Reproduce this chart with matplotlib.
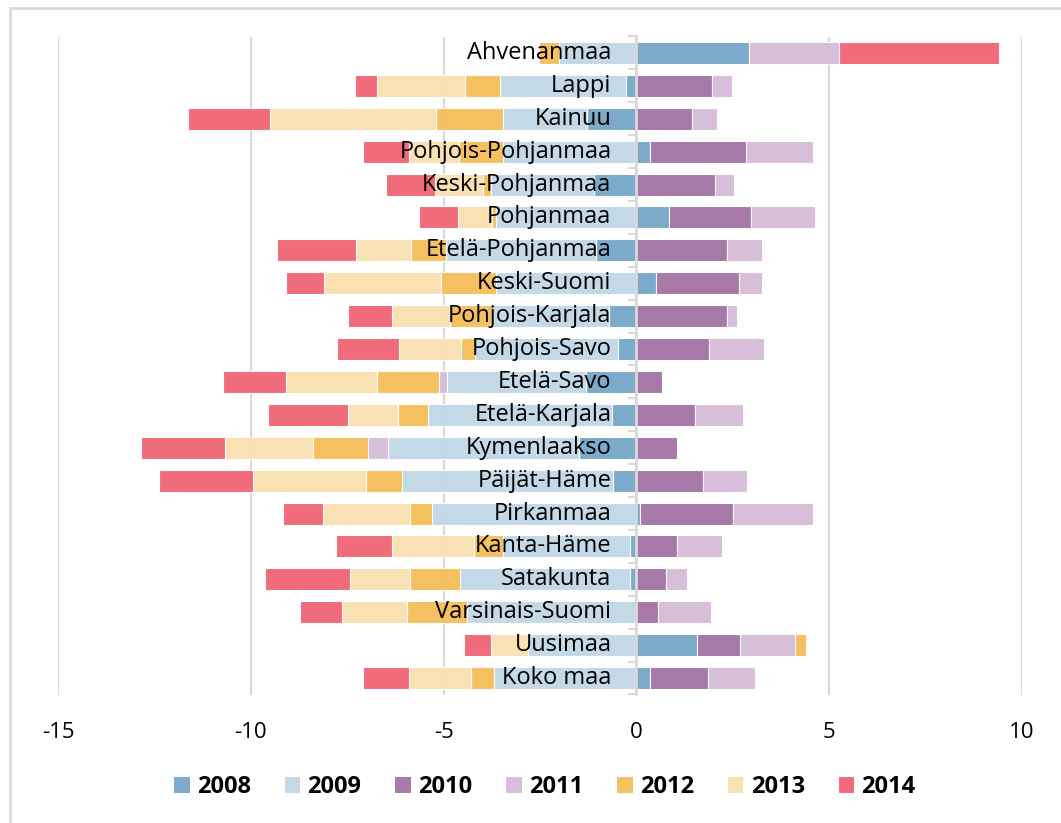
import numpy as np
import matplotlib.pyplot as plt
from matplotlib.patches import Rectangle

plt.rcParams['font.family'] = ['Open Sans', 'DejaVu Sans']
plt.rcParams['axes.unicode_minus'] = False

regions = ['Ahvenanmaa', 'Lappi', 'Kainuu', 'Pohjois-Pohjanmaa', 'Keski-Pohjanmaa',
           'Pohjanmaa', 'Etelä-Pohjanmaa', 'Keski-Suomi', 'Pohjois-Karjala',
           'Pohjois-Savo', 'Etelä-Savo', 'Etelä-Karjala', 'Kymenlaakso',
           'Päijät-Häme', 'Pirkanmaa', 'Kanta-Häme', 'Satakunta',
           'Varsinais-Suomi', 'Uusimaa', 'Koko maa']

years = ['2008', '2009', '2010', '2011', '2012', '2013', '2014']

# one list per year, same order as regions
v2008 = [2.93, -0.28, -1.27, 0.34, -1.09, 0.85, -1.04, 0.52, -0.70, -0.49,
         -1.32, -0.62, -1.50, -0.60, 0.10, -0.16, -0.17, 0.0, 1.58, 0.36]
v2009 = [-2.0, -3.26, -2.20, -3.45, -2.69, -3.65, -3.89, -3.63, -3.03, -3.70,
         -3.60, -4.79, -4.95, -5.47, -5.31, -3.29, -4.40, -4.40, -2.82, -3.68]
v2010 = [0.0, 1.97, 1.45, 2.49, 2.05, 2.12, 2.36, 2.15, 2.36, 1.87,
         0.67, 1.53, 1.04, 1.74, 2.41, 1.04, 0.78, 0.57, 1.11, 1.50]
v2011 = [2.33, 0.52, 0.65, 1.74, 0.49, 1.66, 0.91, 0.60, 0.26, 1.45,
         -0.21, 1.24, -0.52, 1.14, 2.07, 1.19, 0.54, 1.37, 1.42, 1.22]
v2012 = [-0.52, -0.91, -1.74, -1.14, -0.21, -0.10, -0.91, -1.45, -1.11, -0.36,
         -1.61, -0.78, -1.42, -0.93, -0.57, -0.75, -1.30, -1.55, 0.28, -0.60]
v2013 = [0.0, -2.28, -4.30, -1.30, -1.24, -0.88, -1.42, -3.03, -1.50, -1.61,
         -2.36, -1.30, -2.28, -2.93, -2.25, -2.15, -1.55, -1.68, -0.96, -1.61]
v2014 = [4.15, -0.57, -2.12, -1.19, -1.27, -1.01, -2.07, -0.98, -1.14, -1.61,
         -1.63, -2.07, -2.18, -2.46, -1.04, -1.45, -2.20, -1.09, -0.70, -1.19]

series = [v2008, v2009, v2010, v2011, v2012, v2013, v2014]
colors = ['#74A6C8', '#C1D7E6', '#A272A5', '#D5BBD7', '#F5BD57', '#F9E0B0', '#F06474']

fig = plt.figure(figsize=(10.61, 8.23), dpi=100)
ax = fig.add_axes([58 / 1061, 1 - 694.5 / 823, (1022 - 58) / 1061, (694.5 - 36.5) / 823])

y = np.arange(len(regions))
pos_left = np.zeros(len(regions))
neg_left = np.zeros(len(regions))
for name, vals, col in zip(years, series, colors):
    vals = np.array(vals)
    left = np.where(vals >= 0, pos_left, neg_left)
    ax.barh(y, vals, left=left, height=0.67, color=col, alpha=0.95,
            edgecolor=(1, 1, 1, 0.5), linewidth=0.8, label=name, zorder=2)
    pos_left += np.where(vals >= 0, vals, 0)
    neg_left += np.where(vals < 0, vals, 0)

ax.set_xlim(-15, 10)
ax.set_ylim(len(regions) - 0.5, -0.5)
ax.set_xticks([-15, -10, -5, 0, 5, 10])
ax.grid(axis='x', color='#D9D9D9', linewidth=1.5, zorder=0)
ax.set_axisbelow(True)

for s in ['top', 'right', 'bottom']:
    ax.spines[s].set_visible(False)
ax.spines['left'].set_position(('data', 0))
ax.spines['left'].set_color('#D9D9D9')
ax.spines['left'].set_linewidth(2)
ax.spines['left'].set_zorder(3)

# region names sit on top of the bars, right-aligned next to the zero axis
ax.set_yticks(y)
ax.set_yticklabels([])
ax.tick_params(axis='y', length=0)
for yi, name in zip(y, regions):
    ax.annotate(name, xy=(0, yi), xytext=(-18, 0), textcoords='offset points',
                ha='right', va='center', fontsize=17, color='black', zorder=5)

ax.set_yticks(np.arange(-0.5, len(regions), 1), minor=True)
ax.tick_params(axis='y', which='minor', length=6, width=1.5, color='#D9D9D9')
ax.tick_params(axis='x', length=0, labelsize=16, pad=20)

leg = fig.legend(loc='center', bbox_to_anchor=(0.513, 1 - 787 / 823), ncol=7,
                 frameon=False, handlelength=0.7, handleheight=0.7,
                 handletextpad=0.3, columnspacing=1.4,
                 prop={'weight': 'bold', 'size': 17})

# chart area border
fig.patches.append(Rectangle((10 / 1061, -0.1), 1.2, 1 - 8 / 823 + 0.1,
                             transform=fig.transFigure, fill=False,
                             edgecolor='#D9D9D9', linewidth=2))

fig.savefig('out.png', dpi=100)
